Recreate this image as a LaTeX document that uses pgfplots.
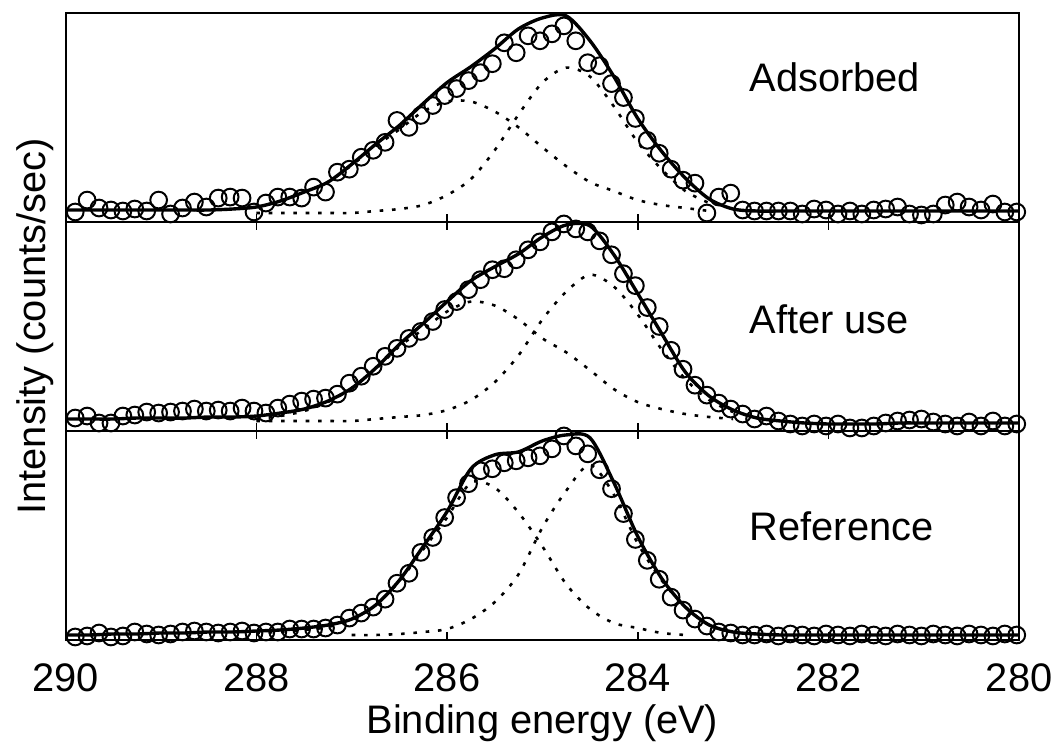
\documentclass[border=0pt]{standalone}
\usepackage{fontspec}
\setmainfont{Liberation Sans}
\usepackage{pgfplots}
\pgfplotsset{compat=1.18}
\usepgfplotslibrary{groupplots}

\pgfplotsset{
  circ/.style={only marks, mark=o, mark size=4.2pt, mark options={line width=1pt, black}},
  fit/.style={black, line width=1.7pt, smooth, no marks},
  comp/.style={black, line width=1.3pt, dash pattern=on 1.8pt off 4.4pt, smooth, no marks},
}

\begin{document}
\begin{tikzpicture}
\begin{groupplot}[
  group style={group size=1 by 3, vertical sep=0pt, xticklabels at=edge bottom},
  scale only axis, width=479pt, height=105pt,
  xmin=280, xmax=290, x dir=reverse,
  ymin=0, ymax=210, ytick=\empty,
  xtick={280,282,...,290},
  tick align=inside, major tick length=4pt,
  axis line style={line width=1pt},
  every tick/.style={black, line width=0.8pt},
  clip=false,
  /pgf/number format/assume math mode=true,
  tick label style={font=\fontsize{20}{24}\selectfont},
  xticklabel style={yshift=-8.5pt},
  label style={font=\fontsize{20}{24}\selectfont},
]
% ---- Adsorbed
\nextgroupplot[xtick pos=bottom]
\addplot[comp] coordinates {(288.0,15) (287.75,21) (287.5,30) (287.25,40) (287.0,57) (286.75,76) (286.5,93) (286.25,111) (286.0,121) (285.75,121) (285.5,111) (285.25,95) (285.0,75) (284.75,56) (284.5,40) (284.25,31) (284.0,22) (283.75,17) (283.5,14) (283.25,11)};
\addplot[comp] coordinates {(288.0,9) (287.75,9) (287.5,9) (287.25,9) (287.0,9) (286.75,11) (286.5,13) (286.25,17) (286.0,27) (285.75,43) (285.5,72) (285.25,108) (285.0,140) (284.75,155) (284.5,146) (284.25,116) (284.0,80) (283.75,53) (283.5,31) (283.25,19)};
\addplot[fit] coordinates {(290.0,12) (289.75,12) (289.5,12) (289.25,12) (289.0,12) (288.75,12) (288.5,12) (288.25,13) (288.0,15) (287.75,21) (287.5,30) (287.25,40) (287.0,58) (286.75,78) (286.5,97) (286.25,119) (286.0,140) (285.75,156) (285.5,174) (285.25,194) (285.0,205) (284.75,207) (284.5,182) (284.25,146) (284.0,104) (283.75,71) (283.5,44) (283.25,23) (283.0,13) (282.75,11) (282.5,11) (282.25,11) (282.0,11) (281.75,11) (281.5,11) (281.25,11) (281.0,11) (280.75,11) (280.5,11) (280.25,11) (280.0,11)};
\addplot[circ] coordinates {(289.900,10) (289.775,22) (289.650,14) (289.525,12) (289.400,11) (289.275,13) (289.150,11) (289.025,22) (288.900,8) (288.775,14) (288.650,20) (288.525,15) (288.400,24) (288.275,25) (288.150,24) (288.025,10) (287.900,19) (287.775,25) (287.650,25) (287.525,24) (287.400,35) (287.275,30) (287.150,50) (287.025,53) (286.900,65) (286.775,72) (286.650,80) (286.525,102) (286.400,95) (286.275,107) (286.150,117) (286.025,127) (285.900,134) (285.775,142) (285.650,150) (285.525,159) (285.400,180) (285.275,170) (285.150,187) (285.025,182) (284.900,189) (284.775,197) (284.650,182) (284.525,160) (284.400,157) (284.275,139) (284.150,125) (284.025,104) (283.900,82) (283.775,69) (283.650,53) (283.525,42) (283.400,39) (283.275,9) (283.150,25) (283.025,29) (282.900,12) (282.775,11) (282.650,11) (282.525,11) (282.400,11) (282.275,8) (282.150,13) (282.025,12) (281.900,8) (281.775,11) (281.650,8) (281.525,12) (281.400,13) (281.275,15) (281.150,8) (281.025,7) (280.900,8) (280.775,17) (280.650,20) (280.525,15) (280.400,12) (280.275,18) (280.150,10) (280.025,10)};
\node[anchor=west, font=\fontsize{20}{24}\selectfont] at (axis cs:282.9,145) {Adsorbed};
% ---- After use
\nextgroupplot[ylabel={Intensity (counts/sec)}, ylabel style={at={(axis description cs:-0.0324,0.5)}, anchor=center}]
\addplot[comp] coordinates {(288.0,12) (287.75,15) (287.5,20) (287.25,29) (287.0,43) (286.75,62) (286.5,85) (286.25,102) (286.0,120) (285.75,130) (285.5,126) (285.25,112) (285.0,93) (284.75,79) (284.5,61) (284.25,42) (284.0,29) (283.75,22) (283.5,17) (283.25,14) (283.0,12)};
\addplot[comp] coordinates {(288.0,10) (287.75,10) (287.5,10) (287.25,10) (287.0,10) (286.75,12) (286.5,14) (286.25,16) (286.0,21) (285.75,31) (285.5,49) (285.25,76) (285.0,112) (284.75,140) (284.5,157) (284.25,145) (284.0,117) (283.75,82) (283.5,52) (283.25,31) (283.0,19)};
\addplot[fit] coordinates {(290.0,12) (289.75,12) (289.5,12) (289.25,13) (289.0,13) (288.75,13) (288.5,14) (288.25,14) (288.0,15) (287.75,18) (287.5,22) (287.25,30) (287.0,43) (286.75,63) (286.5,87) (286.25,108) (286.0,130) (285.75,151) (285.5,165) (285.25,178) (285.0,195) (284.75,207) (284.5,206) (284.25,177) (284.0,138) (283.75,98) (283.5,59) (283.25,35) (283.0,21) (282.75,13) (282.5,10) (282.25,8) (282.0,7) (281.75,7) (281.5,7) (281.25,8) (281.0,8) (280.75,8) (280.5,8) (280.25,8) (280.0,8)};
\addplot[circ] coordinates {(289.900,13) (289.775,15) (289.650,8) (289.525,8) (289.400,15) (289.275,16) (289.150,19) (289.025,18) (288.900,19) (288.775,20) (288.650,22) (288.525,20) (288.400,21) (288.275,20) (288.150,23) (288.025,20) (287.900,18) (287.775,23) (287.650,27) (287.525,30) (287.400,32) (287.275,33) (287.150,37) (287.025,48) (286.900,55) (286.775,65) (286.650,75) (286.525,83) (286.400,93) (286.275,100) (286.150,110) (286.025,122) (285.900,130) (285.775,142) (285.650,152) (285.525,162) (285.400,163) (285.275,172) (285.150,182) (285.025,190) (284.900,200) (284.775,208) (284.650,203) (284.525,200) (284.400,191) (284.275,177) (284.150,158) (284.025,146) (283.900,124) (283.775,105) (283.650,81) (283.525,62) (283.400,46) (283.275,36) (283.150,28) (283.025,22) (282.900,17) (282.775,12) (282.650,15) (282.525,10) (282.400,7) (282.275,5) (282.150,7) (282.025,5) (281.900,7) (281.775,3) (281.650,3) (281.525,5) (281.400,8) (281.275,10) (281.150,11) (281.025,12) (280.900,9) (280.775,7) (280.650,5) (280.525,9) (280.400,5) (280.275,10) (280.150,5) (280.025,7)};
\node[anchor=west, font=\fontsize{20}{24}\selectfont] at (axis cs:282.9,112) {After use};
% ---- Reference
\nextgroupplot[xlabel={Binding energy (eV)}, xlabel style={at={(axis description cs:0.5,-0.40)}, anchor=center}]
\addplot[comp] coordinates {(288.0,7) (287.75,8) (287.5,10) (287.25,13) (287.0,21) (286.75,35) (286.5,59) (286.25,91) (286.0,123) (285.75,158) (285.5,153) (285.25,128) (285.0,94) (284.75,56) (284.5,31) (284.25,17) (284.0,12) (283.75,7) (283.5,5)};
\addplot[comp] coordinates {(287.0,5) (286.75,5) (286.5,6) (286.25,8) (286.0,11) (285.75,21) (285.5,38) (285.25,66) (285.0,113) (284.75,150) (284.5,176) (284.25,146) (284.0,97) (283.75,60) (283.5,33) (283.25,15) (283.0,8)};
\addplot[fit] coordinates {(290.0,5) (289.75,5) (289.5,6) (289.25,6) (289.0,7) (288.75,7) (288.5,8) (288.25,8) (288.0,9) (287.75,10) (287.5,12) (287.25,15) (287.0,21) (286.75,35) (286.5,60) (286.25,94) (286.0,129) (285.75,172) (285.5,186) (285.25,189) (285.0,200) (284.75,206) (284.5,203) (284.25,158) (284.0,104) (283.75,62) (283.5,33) (283.25,15) (283.0,8) (282.75,6) (282.5,5) (282.25,5) (282.0,5) (281.75,5) (281.5,5) (281.25,5) (281.0,5) (280.75,5) (280.5,5) (280.25,5) (280.0,5)};
\addplot[circ] coordinates {(289.900,3) (289.775,4) (289.650,7) (289.525,3) (289.400,4) (289.275,8) (289.150,6) (289.025,5) (288.900,6) (288.775,8) (288.650,9) (288.525,8) (288.400,7) (288.275,8) (288.150,9) (288.025,7) (287.900,8) (287.775,8) (287.650,11) (287.525,11) (287.400,11) (287.275,12) (287.150,15) (287.025,22) (286.900,27) (286.775,33) (286.650,41) (286.525,57) (286.400,67) (286.275,88) (286.150,103) (286.025,123) (285.900,143) (285.775,157) (285.650,170) (285.525,172) (285.400,178) (285.275,180) (285.150,183) (285.025,185) (284.900,192) (284.775,205) (284.650,195) (284.525,187) (284.400,171) (284.275,152) (284.150,127) (284.025,101) (283.900,80) (283.775,61) (283.650,43) (283.525,30) (283.400,21) (283.275,14) (283.150,8) (283.025,7) (282.900,5) (282.775,5) (282.650,6) (282.525,4) (282.400,6) (282.275,5) (282.150,4) (282.025,6) (281.900,5) (281.775,4) (281.650,6) (281.525,5) (281.400,4) (281.275,6) (281.150,5) (281.025,4) (280.900,6) (280.775,5) (280.650,4) (280.525,6) (280.400,5) (280.275,4) (280.150,6) (280.025,5)};
\node[anchor=west, font=\fontsize{20}{24}\selectfont] at (axis cs:282.9,114) {Reference};
\end{groupplot}
\path ([xshift=-33pt,yshift=6.5pt]group c1r1.north west) rectangle ([xshift=17.5pt,yshift=-48.5pt]group c1r3.south east);
\end{tikzpicture}
\end{document}
